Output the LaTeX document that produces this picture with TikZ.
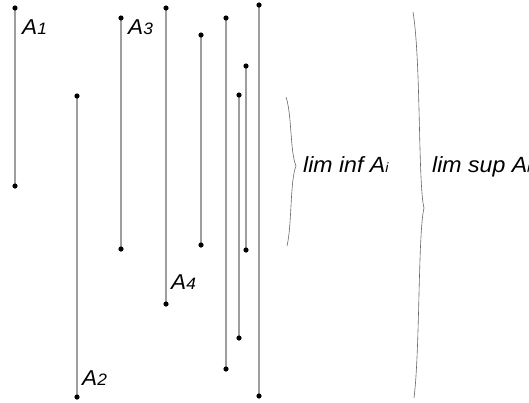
\documentclass[tikz,border=0pt]{standalone}
\usepackage{fontspec}
\newfontfamily\labfont[FakeStretch=1.05]{Liberation Sans}
\begin{document}
\begin{tikzpicture}[x=1pt,y=-1pt,
  seg/.style={draw=black!38,line width=1.1pt},
  dot/.style={circle,fill=black,inner sep=0pt,minimum size=5.2pt},
  brc/.style={draw=black!60,line width=0.6pt},
  lbl/.style={anchor=base west,inner sep=0pt,font=\labfont\itshape\fontsize{21.5}{22}\selectfont},
  lim/.style={anchor=base west,inner sep=0pt,font=\labfont\itshape\fontsize{22}{22}\selectfont}]
\useasboundingbox (0,0) rectangle (529,402);
\clip (0,0) rectangle (529,402);
% endpoints
\coordinate (s1t) at (15,8);   \coordinate (s1b) at (15,186);
\coordinate (s2t) at (77,96);  \coordinate (s2b) at (77,397);
\coordinate (s3t) at (121,18); \coordinate (s3b) at (121,249);
\coordinate (s4t) at (166,8);  \coordinate (s4b) at (166,304);
\coordinate (s5t) at (201,35); \coordinate (s5b) at (201,245);
\coordinate (s6t) at (226,18); \coordinate (s6b) at (226,369);
\coordinate (s7t) at (239,95); \coordinate (s7b) at (239,338);
\coordinate (s8t) at (246,66); \coordinate (s8b) at (246,250);
\coordinate (s9t) at (259,5);  \coordinate (s9b) at (259,396);
\foreach \i in {1,...,9} {
  \draw[seg] (s\i t) -- (s\i b);
  \node[dot] (d\i t) at (s\i t) {};
  \node[dot] (d\i b) at (s\i b) {};
}
% labels
\node[lbl] (la1) at (22,34) {A{\fontsize{16.5}{16}\selectfont 1}};
\node[lbl] (la3) at (128,34) {A{\fontsize{16.5}{16}\selectfont 3}};
\node[lbl] (la4) at (171,289) {A{\fontsize{16.5}{16}\selectfont 4}};
\node[lbl] (la2) at (82,385) {A{\fontsize{16.5}{16}\selectfont 2}};
% braces
\coordinate (b1t) at (286,97); \coordinate (b1m) at (296,166); \coordinate (b1b) at (287,246);
\draw[brc] (b1t) .. controls (292,115) and (290,152) .. (b1m)
                 .. controls (290,180) and (292,225) .. (b1b);
\coordinate (b2t) at (413,12); \coordinate (b2m) at (424,208); \coordinate (b2b) at (414,398);
\draw[brc] (b2t) .. controls (421,60) and (418,185) .. (b2m)
                 .. controls (418,232) and (420,350) .. (b2b);
\node[lim] (liminf) at (303,172) {lim inf A{\fontsize{13.5}{13}\selectfont i}};
\node[lim] (limsup) at (432,172) {lim sup A{\fontsize{13.5}{13}\selectfont i}};
\end{tikzpicture}
\end{document}
